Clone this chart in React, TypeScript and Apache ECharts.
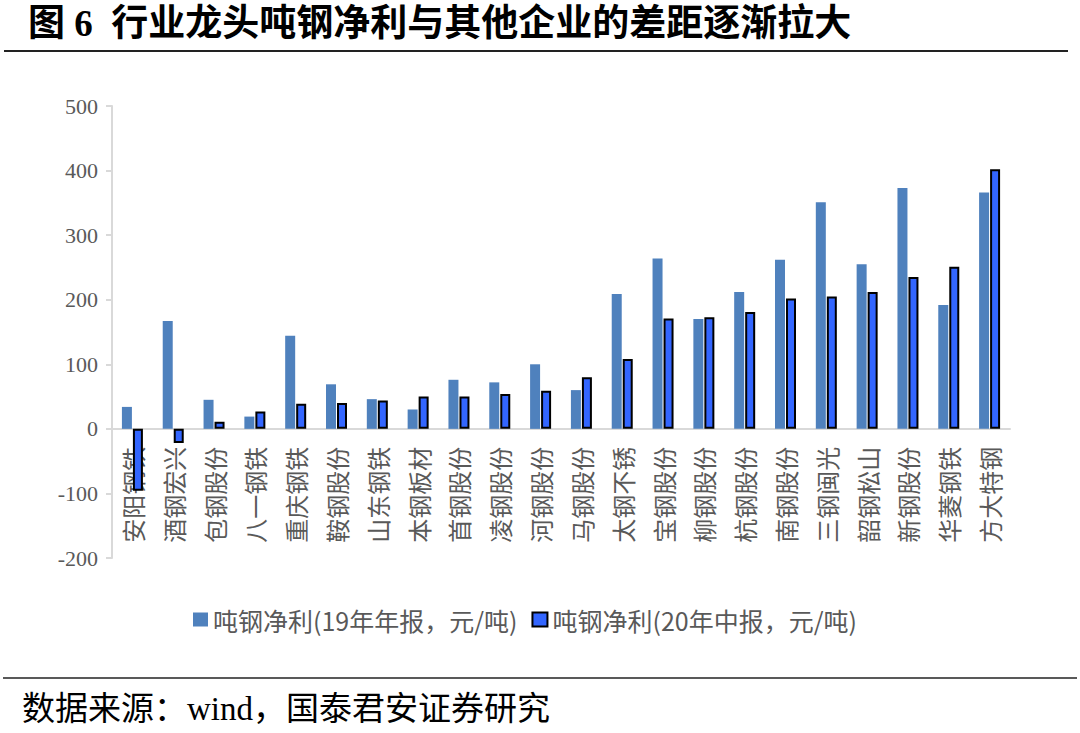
import React, { useEffect, useRef } from "react";
import * as echarts from "echarts";

const categories = [
  "安阳钢铁", "酒钢宏兴", "包钢股份", "八一钢铁", "重庆钢铁", "鞍钢股份", "山东钢铁",
  "本钢板材", "首钢股份", "凌钢股份", "河钢股份", "马钢股份", "太钢不锈", "宝钢股份",
  "柳钢股份", "杭钢股份", "南钢股份", "三钢闽光", "韶钢松山", "新钢股份", "华菱钢铁", "方大特钢",
];
const profit19 = [34, 167, 45, 19, 144, 69, 46, 30, 76, 72, 100, 60, 209, 264, 170, 212, 262, 351, 255, 373, 192, 366];
const profit20 = [-96, -22, 11, 27, 39, 40, 44, 50, 50, 54, 59, 80, 108, 171, 173, 181, 202, 205, 212, 235, 251, 402];
const seriesNames = ["吨钢净利(19年年报，元/吨)", "吨钢净利(20年中报，元/吨)"];
const yMin = -200;
const yMax = 500;
const yInterval = 100;
const titleText = "图 6  行业龙头吨钢净利与其他企业的差距逐渐拉大";
const sourceText = "数据来源：wind，国泰君安证券研究";

export default function App() {
  const ref = useRef<HTMLDivElement>(null);
  useEffect(() => {
    document.body.style.margin = "0";
    const chart = echarts.init(ref.current!, null, { renderer: "svg" });
    const cjk = "'Liberation Serif', 'Noto Sans CJK SC', serif";
    const gridTop = 106;
    const gridBottom = 175;
    const gridHeight = 733 - gridTop - gridBottom;
    const zeroOffset = (gridHeight * (0 - yMin)) / (yMax - yMin);
    chart.setOption({
      animation: false,
      backgroundColor: "#ffffff",
      grid: { left: 112, right: 70, top: gridTop, bottom: gridBottom, containLabel: false },
      legend: {
        bottom: 96,
        left: 188,
        icon: "rect",
        itemWidth: 15,
        itemHeight: 14,
        itemGap: 14,
        textStyle: { fontSize: 25, color: "#595959", fontFamily: "'Noto Sans CJK SC', sans-serif" },
        data: seriesNames,
      },
      xAxis: {
        type: "category",
        data: categories,
        offset: -zeroOffset,
        axisLine: { show: true, onZero: false, lineStyle: { color: "#d9d9d9", width: 2 } },
        axisTick: { show: false },
        axisLabel: {
          rotate: 90,
          interval: 0,
          margin: 18,
          fontSize: 24,
          color: "#595959",
          fontFamily: "'Noto Sans CJK SC', sans-serif",
        },
        splitLine: { show: false },
      },
      yAxis: {
        type: "value",
        min: yMin,
        max: yMax,
        interval: yInterval,
        axisLine: { show: true, lineStyle: { color: "#d9d9d9", width: 2 } },
        axisTick: { show: true, inside: false, length: 6, lineStyle: { color: "#d9d9d9", width: 2 } },
        axisLabel: { margin: 14, fontSize: 22, color: "#595959", fontFamily: "'Liberation Serif', serif" },
        splitLine: { show: false },
      },
      series: [
        {
          name: seriesNames[0],
          type: "bar",
          data: profit19,
          barWidth: 10,
          barGap: "10%",
          itemStyle: { color: "#4f81bd" },
        },
        {
          name: seriesNames[1],
          type: "bar",
          data: profit20,
          barWidth: 10,
          itemStyle: { color: "#3366ff", borderColor: "#000000", borderWidth: 2 },
        },
      ],
      graphic: [
        {
          type: "text",
          left: 28,
          top: 5,
          style: { text: titleText, fontSize: 37, fontWeight: "bold", fill: "#000", fontFamily: cjk },
        },
        {
          type: "line",
          shape: { x1: 4, y1: 51, x2: 1068, y2: 51 },
          style: { stroke: "#222", lineWidth: 2 },
        },
        {
          type: "line",
          shape: { x1: 3, y1: 678, x2: 1077, y2: 678 },
          style: { stroke: "#222", lineWidth: 1.5 },
        },
        {
          type: "text",
          left: 22,
          top: 692,
          style: { text: sourceText, fontSize: 33, fill: "#000", fontFamily: cjk },
        },
      ],
    });
    return () => chart.dispose();
  }, []);
  return <div ref={ref} style={{ width: 1080, height: 733 }} />;
}
